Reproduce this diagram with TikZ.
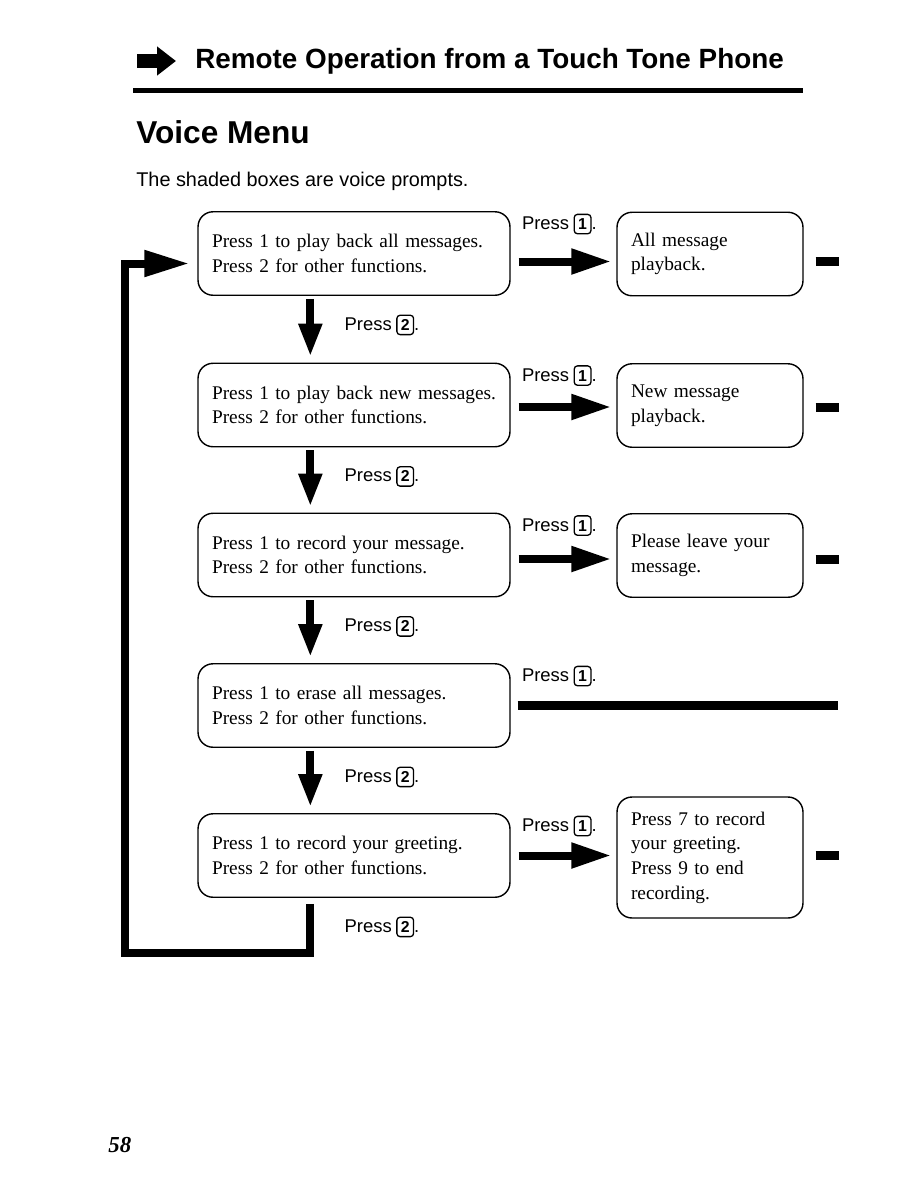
\documentclass[tikz,border=0pt]{standalone}
\usepackage{fontspec}
\setmainfont{Liberation Serif}
\setsansfont{Liberation Sans}
\usetikzlibrary{arrows.meta,calc}

% key symbol used in the "Press" labels
\newcommand{\keyb}[1]{\tikz[baseline=(k.base)]\node[draw,line width=0.75pt,rounded corners=1.8pt,inner sep=0pt,minimum width=9.5pt,minimum height=11pt](k){\fontsize{9}{9}\selectfont\sffamily\bfseries#1};}
\newcommand{\press}[1]{Press\hspace{2.5pt}\keyb{#1}.}

\tikzset{
  prompt/.style={draw, line width=0.8pt, rounded corners=0.3cm, minimum width=6.24cm,
    minimum height=1.67cm, text width=5.68cm, align=left, font=\fontsize{11}{14}\selectfont},
  reply/.style={prompt, minimum width=3.72cm, text width=3.16cm},
  presslbl/.style={anchor=west, inner sep=0pt, font=\fontsize{10.5}{12}\selectfont\sffamily},
  rightarr/.style={line width=0.16cm, -{Triangle[length=0.8cm,width=0.48cm]}},
  downarr/.style={line width=0.16cm, -{Triangle[length=0.66cm,width=0.44cm]}},
  stub/.style={line width=0.18cm}
}

\begin{document}
\begin{tikzpicture}[x=0.02cm, y=-0.02cm]
  \useasboundingbox (0,0) rectangle (918,1188);

  % heading
  \draw[line width=0.28cm, -{Triangle[length=0.38cm,width=0.56cm]}] (137,61) -- (176,61);
  \node[anchor=base west, inner sep=0pt, font=\fontsize{15.85}{18}\selectfont\sffamily\bfseries] (title) at (195,68) {Remote Operation from a Touch Tone Phone};
  \draw[line width=0.1cm] (133,90.5) -- (803,90.5);
  \node[anchor=base west, inner sep=0pt, font=\fontsize{18}{20}\selectfont\sffamily\bfseries] (sub) at (136,143) {Voice Menu};
  \node[anchor=base west, inner sep=0pt, font=\fontsize{11.3}{13}\selectfont\sffamily] (note) at (136,186) {The shaded boxes are voice prompts.};

  % voice prompts
  \node[prompt] (p1) at (354,253.5) {Press 1 to play back all messages.\\Press 2 for other functions.};
  \node[prompt] (p2) at (354,405) {Press 1 to play back new messages.\\Press 2 for other functions.};
  \node[prompt] (p3) at (354,555) {Press 1 to record your message.\\Press 2 for other functions.};
  \node[prompt] (p4) at (354,705.5) {Press 1 to erase all messages.\\Press 2 for other functions.};
  \node[prompt] (p5) at (354,855.5) {Press 1 to record your greeting.\\Press 2 for other functions.};

  \node[reply] (r1) at (710,254) {All message\\playback.};
  \node[reply] (r2) at (710,405.5) {New message\\playback.};
  \node[reply] (r3) at (710,555.5) {Please leave your\\message.};
  \node[reply, minimum height=2.42cm] (r5) at (710,857.5) {Press 7 to record\\your greeting.\\Press 9 to end\\recording.};

  % press 1
  \foreach \i in {1,...,5}
    \node[presslbl] (a\i) at ($(p\i.north east)+(11,13)$) {\press{1}};
  \foreach \i/\dy in {1/8,2/2,3/4,5/0} {
    \draw[rightarr] ($(p\i.east)+(8,\dy)$) -- ($(r\i.west |- p\i.east)+(-5,\dy)$);
    \draw[stub] ($(r\i.east |- p\i.east)+(12,\dy)$) -- ($(r\i.east |- p\i.east)+(35,\dy)$);
  }
  \coordinate (e4) at (838,705.5);
  \draw[stub] ($(p4.east)+(7,0)$) -- (e4);

  % press 2
  \foreach \i in {1,...,5}
    \node[presslbl] (b\i) at ($(p\i.south west)+(147,29)$) {\press{2}};
  \foreach \i/\j in {1/2,2/3,3/4,4/5}
    \draw[downarr] ($(p\i.south west)+(113,3)$) -- ($(p\j.north west)+(113,-6)$);

  % back to the top
  \draw[line width=0.16cm, -{Triangle[length=0.9cm,width=0.5cm]}]
    ($(p5.south west)+(113,6)$) -- ++(0,49) -| ($(p1.west)+(-72,10)$) -- ($(p1.west)+(-8,10)$);

  \node[anchor=base west, inner sep=0pt, font=\fontsize{13}{15}\selectfont\bfseries\itshape] (page) at (108,1152) {58};
\end{tikzpicture}
\end{document}
